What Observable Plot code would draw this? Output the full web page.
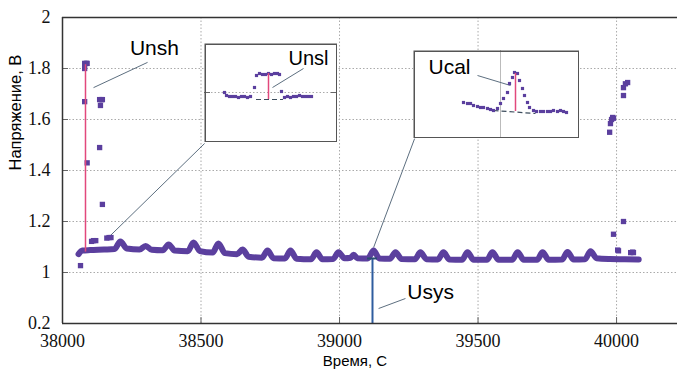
<!DOCTYPE html>
<html><head><meta charset="utf-8">
<script src="https://cdn.jsdelivr.net/npm/d3@7"></script>
<script src="https://cdn.jsdelivr.net/npm/@observablehq/plot@0.6"></script>
<style>
body{margin:0;background:#fff;}
#wrap{position:relative;width:677px;height:370px;overflow:hidden;background:#fff;}
#wrap svg{position:absolute;}
</style></head><body><div id="wrap"></div>
<script>
// ---- main series (time, s / voltage, V) ----
const waveT = [38058,38072,38100,38150,38188,38209,38232,38278,38300,38322,38362,38383,38405,38452,38473,38496,38542,38563,38586,38630,38650,38672,38720,38740,38762,38803,38823,38845,38897,38917,38938,38977,38996,39018,39040,39051,39064,39102,39123,39144,39182,39202,39224,39272,39292,39314,39355,39375,39397,39442,39462,39484,39532,39552,39574,39623,39643,39665,39713,39733,39755,39803,39823,39845,39886,39906,39928,39975,40030,40080];
const waveV = [1.072,1.086,1.088,1.090,1.092,1.122,1.094,1.090,1.104,1.089,1.087,1.110,1.086,1.083,1.118,1.084,1.078,1.114,1.076,1.072,1.090,1.062,1.058,1.086,1.056,1.055,1.086,1.054,1.052,1.079,1.052,1.053,1.079,1.056,1.058,1.070,1.056,1.055,1.086,1.055,1.054,1.079,1.053,1.052,1.079,1.052,1.051,1.079,1.051,1.050,1.079,1.050,1.050,1.079,1.050,1.050,1.079,1.050,1.050,1.079,1.050,1.051,1.080,1.051,1.052,1.083,1.056,1.053,1.052,1.051];
// outlier samples
const outT = [38080,38086,38089,38080,38080,38089,38065,38134,38140,38144,38137,38134,38144,38105,38112,38120,38160,38168,38175,39975,39978,39986,39989,39982,40025,40032,40040,40025,40025,39989,40004,40007,40051,40058,40061];
const outV = [1.82,1.82,1.82,1.80,1.67,1.43,1.027,1.678,1.678,1.678,1.655,1.49,1.267,1.122,1.125,1.125,1.135,1.137,1.137,1.55,1.584,1.608,1.605,1.60,1.725,1.74,1.745,1.694,1.20,1.15,1.088,1.085,1.078,1.08,1.078];

// ticks
const xTicks = [38000,38500,39000,39500,40000];
const yTicks = [0.2,1,1.2,1.4,1.6,1.8,2];
const xGrid = [38500,39000,39500,40000];
const yGrid = [1,1.2,1.4,1.6,1.8];

// annotations (data units)
const unshT = 38083, unshLow = 1.08, unshHigh = 1.815;
const usysT = 39119, usysV = 1.055, usysCap = [39101,39137];
const labText = ["Unsh","Usys"];
const labT = [38332,39329];
const labV = [1.878,0.686];
const leadX1 = [38112,38173,39123,39141];
const leadY1 = [1.725,1.145,1.098,0.435];
const leadX2 = [38307,38513,39271,39238];
const leadY2 = [1.824,1.506,1.525,0.592];

// inset 1 (Unsl)
const in1T = [38110,38111,38112.5,38114,38115.5,38117,38118.5,38120,38121.5,38123,38125,38126,38127.5,38129,38130.5,38132,38133.5,38135,38136.5,38137.5,38138.5,38140,38141.5,38143,38144.5,38146,38147.5,38149,38150.5,38152,38153.5];
const in1V = [1.111,1.108,1.107,1.107,1.107,1.106,1.107,1.107,1.106,1.107,1.116,1.128,1.130,1.129,1.129,1.130,1.129,1.130,1.130,1.129,1.112,1.106,1.107,1.106,1.107,1.107,1.108,1.107,1.107,1.107,1.107];
const in1Grid = 1.111;
const unslT = 38132, unslTop = 1.130, unslBase = 1.104, unslDash = [38126,38139.5];
const unslLab = {t: 38152, v: 1.145};
const unslLead = [38134,1.116,38149.5,1.135];

// inset 2 (Ucal)
const in2T = [39085,39087,39088.5,39090,39092,39093.5,39095,39097,39098.5,39100,39102,39103.5,39105,39107,39108,39109.5,39110.5,39112,39113,39114.5,39115.5,39117,39118,39120,39121.5,39123.5,39125,39127,39128.5,39130,39132,39133.5,39135,39136.5];
const in2V = [1.068,1.067,1.067,1.065,1.064,1.063,1.063,1.062,1.061,1.060,1.062,1.067,1.072,1.078,1.087,1.093,1.098,1.097,1.090,1.082,1.075,1.068,1.063,1.060,1.059,1.059,1.059,1.059,1.059,1.060,1.059,1.060,1.059,1.058];
const in2Grid = 39103.5;
const ucalT = 39111, ucalTop = 1.097, ucalBase = 1.059;
const ucalDash = [39100,1.060,39121,1.057];
const ucalLab = {t: 39078, v: 1.103};
const ucalLead = [39092,1.095,39108.5,1.085];

const purple = "#5b3f9e", pink = "#e2487c", blue = "#2f5d9f", leadC = "#5d6f80";
const sans = "'Liberation Sans', Arial, sans-serif";

const wave = waveT.map((t,i)=>({t, v: waveV[i]}));
const outs = outT.map((t,i)=>({t, v: outV[i]}));
const labs = labText.map((s,i)=>({s, t: labT[i], v: labV[i]}));
const leads = leadX1.map((x,i)=>({x1:x, y1:leadY1[i], x2:leadX2[i], y2:leadY2[i]}));

const main = Plot.plot({
  width: 677, height: 370,
  marginLeft: 62, marginRight: 0, marginTop: 17, marginBottom: 47,
  style: {fontFamily: "'Liberation Serif', serif", fontSize: "18px", color: "#111", background: "#fff"},
  x: {domain: [38000, 40220]},
  y: {type: "linear", domain: [0.2, 1, 2], range: [323, 272, 17]},
  marks: [
    Plot.gridX(xGrid, {stroke: "#aaa", strokeOpacity: 1, strokeDasharray: "1.5,2"}),
    Plot.gridY(yGrid, {stroke: "#aaa", strokeOpacity: 1, strokeDasharray: "1.5,2"}),
    Plot.tickX(xGrid, {x: d=>d, insetTop: 300, stroke: "#666"}),
    Plot.tickY(yGrid, {y: d=>d, insetRight: 609, stroke: "#666"}),
    Plot.axisX(xTicks, {tickSize: 0, tickPadding: 11, tickFormat: d=>String(d), label: null}),
    Plot.axisY(yTicks, {tickSize: 0, tickPadding: 12, tickFormat: d=>String(d), label: null}),
    Plot.link(leads, {x1:"x1", y1:"y1", x2:"x2", y2:"y2", stroke: leadC, strokeWidth: 1}),
    Plot.line(wave, {x:"t", y:"v", stroke: purple, strokeWidth: 6, curve: "monotone-x", strokeLinejoin: "round", strokeLinecap: "round"}),
    Plot.dot(outs, {x:"t", y:"v", symbol: "square", r: 3, fill: purple}),
    Plot.ruleX([unshT], {y1: unshLow, y2: unshHigh, stroke: pink, strokeWidth: 1.5}),
    Plot.ruleX([usysT], {y1: 0.2, y2: usysV, stroke: blue, strokeWidth: 2}),
    Plot.ruleY([usysV], {x1: usysCap[0], x2: usysCap[1], stroke: "#2a4d70", strokeWidth: 2}),
    Plot.text(labs, {x:"t", y:"v", text:"s", fontFamily: sans, fontSize: 21, fill: "#000"}),
    Plot.text(["Время, С"], {text: d=>d, frameAnchor: "bottom", dx: -15, dy: 42, fontFamily: sans, fontSize: 15, fill: "#000"}),
    Plot.text(["Напряжение, В"], {text: d=>d, frameAnchor: "left", rotate: -90, dx: -47, fontFamily: sans, fontSize: 16.5, fill: "#000"}),
    Plot.ruleX([38000], {stroke: "#333", strokeWidth: 1.5}),
    Plot.ruleY([0.2, 2], {stroke: "#333", strokeWidth: 1.5})
  ]
});

const in1 = Plot.plot({
  width: 133, height: 99, margin: 0,
  style: {background: "#fff", overflow: "hidden"},
  x: {domain: [38100, 38166.5], axis: null},
  y: {domain: [1.061, 1.16], axis: null},
  marks: [
    Plot.ruleY([in1Grid], {stroke: "#aaa", strokeDasharray: "1.5,2"}),
    Plot.tickY([in1Grid], {y: d=>d, insetRight: 127, stroke: "#666"}),
    Plot.tickY([in1Grid], {y: d=>d, insetLeft: 127, stroke: "#666"}),
    Plot.link([unslLead], {x1: d=>d[0], y1: d=>d[1], x2: d=>d[2], y2: d=>d[3], stroke: leadC}),
    Plot.ruleY([unslBase], {x1: unslDash[0], x2: unslDash[1], stroke: "#3d4d5d", strokeWidth: 1.2, strokeDasharray: "5,3"}),
    Plot.dot(in1T.map((t,i)=>({t, v: in1V[i]})), {x:"t", y:"v", symbol:"square", r: 1.8, fill: purple}),
    Plot.ruleX([unslT], {y1: unslBase, y2: unslTop, stroke: pink, strokeWidth: 1.5}),
    Plot.text([unslLab], {x:"t", y:"v", text: ()=>"Unsl", fontFamily: sans, fontSize: 20, fill: "#000"}),
    Plot.frame({stroke: "#555", strokeWidth: 1.5, inset: 0.75})
  ]
});

const in2 = Plot.plot({
  width: 166, height: 88, margin: 0,
  style: {background: "#fff", overflow: "hidden"},
  x: {domain: [39060, 39143], axis: null},
  y: {domain: [1.032, 1.12], axis: null},
  marks: [
    Plot.ruleX([in2Grid], {stroke: "#bbb", strokeWidth: 1}),
    Plot.link([ucalLead], {x1: d=>d[0], y1: d=>d[1], x2: d=>d[2], y2: d=>d[3], stroke: leadC}),
    Plot.link([ucalDash], {x1: d=>d[0], y1: d=>d[1], x2: d=>d[2], y2: d=>d[3], stroke: "#3d4d5d", strokeWidth: 1.2, strokeDasharray: "5,3"}),
    Plot.dot(in2T.map((t,i)=>({t, v: in2V[i]})), {x:"t", y:"v", symbol:"square", r: 1.8, fill: purple}),
    Plot.ruleX([ucalT], {y1: ucalBase, y2: ucalTop, stroke: pink, strokeWidth: 1.5}),
    Plot.text([ucalLab], {x:"t", y:"v", text: ()=>"Ucal", fontFamily: sans, fontSize: 21, fill: "#000"}),
    Plot.frame({stroke: "#555", strokeWidth: 1.5, inset: 0.75})
  ]
});

const wrap = document.getElementById("wrap");
main.style.left = "0px"; main.style.top = "0px";
in1.style.left = "204px"; in1.style.top = "43px";
in2.style.left = "413px"; in2.style.top = "50px";
wrap.appendChild(main); wrap.appendChild(in1); wrap.appendChild(in2);
</script>
</body></html>
